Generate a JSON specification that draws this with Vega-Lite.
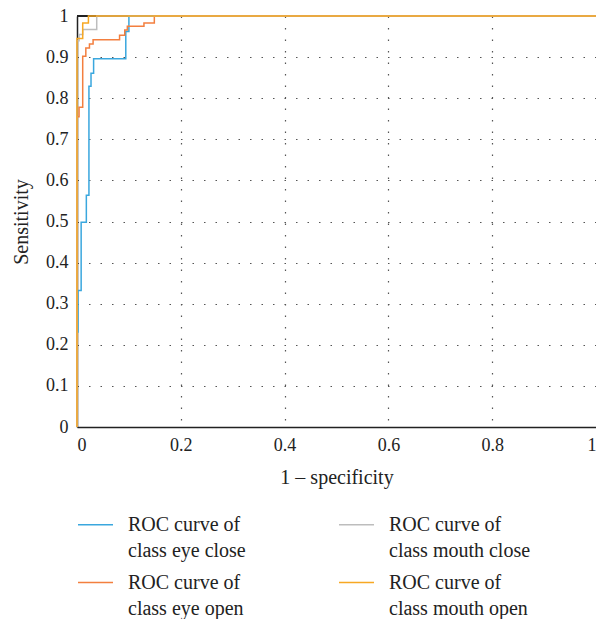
{
  "$schema": "https://vega.github.io/schema/vega-lite/v6.json",
  "width": 519,
  "height": 411,
  "autosize": "none",
  "padding": {"left": 77, "top": 16, "right": 0, "bottom": 192},
  "background": "white",
  "data": {
    "values": [
      {"series": "eye close", "i": 0, "fpr": 0, "tpr": 0},
      {"series": "eye close", "i": 1, "fpr": 0, "tpr": 0.231},
      {"series": "eye close", "i": 2, "fpr": 0.002, "tpr": 0.231},
      {"series": "eye close", "i": 3, "fpr": 0.002, "tpr": 0.332},
      {"series": "eye close", "i": 4, "fpr": 0.008, "tpr": 0.332},
      {"series": "eye close", "i": 5, "fpr": 0.008, "tpr": 0.498},
      {"series": "eye close", "i": 6, "fpr": 0.018, "tpr": 0.498},
      {"series": "eye close", "i": 7, "fpr": 0.018, "tpr": 0.564},
      {"series": "eye close", "i": 8, "fpr": 0.023, "tpr": 0.564},
      {"series": "eye close", "i": 9, "fpr": 0.023, "tpr": 0.829},
      {"series": "eye close", "i": 10, "fpr": 0.027, "tpr": 0.829},
      {"series": "eye close", "i": 11, "fpr": 0.027, "tpr": 0.861},
      {"series": "eye close", "i": 12, "fpr": 0.032, "tpr": 0.861},
      {"series": "eye close", "i": 13, "fpr": 0.032, "tpr": 0.896},
      {"series": "eye close", "i": 14, "fpr": 0.094, "tpr": 0.896},
      {"series": "eye close", "i": 15, "fpr": 0.094, "tpr": 0.962},
      {"series": "eye close", "i": 16, "fpr": 0.1, "tpr": 0.962},
      {"series": "eye close", "i": 17, "fpr": 0.1, "tpr": 1},
      {"series": "eye close", "i": 18, "fpr": 1, "tpr": 1},
      {"series": "eye open", "i": 0, "fpr": 0, "tpr": 0},
      {"series": "eye open", "i": 1, "fpr": 0, "tpr": 0.755},
      {"series": "eye open", "i": 2, "fpr": 0.004, "tpr": 0.755},
      {"series": "eye open", "i": 3, "fpr": 0.004, "tpr": 0.778},
      {"series": "eye open", "i": 4, "fpr": 0.011, "tpr": 0.778},
      {"series": "eye open", "i": 5, "fpr": 0.011, "tpr": 0.902},
      {"series": "eye open", "i": 6, "fpr": 0.017, "tpr": 0.902},
      {"series": "eye open", "i": 7, "fpr": 0.017, "tpr": 0.922},
      {"series": "eye open", "i": 8, "fpr": 0.024, "tpr": 0.922},
      {"series": "eye open", "i": 9, "fpr": 0.024, "tpr": 0.932},
      {"series": "eye open", "i": 10, "fpr": 0.031, "tpr": 0.932},
      {"series": "eye open", "i": 11, "fpr": 0.031, "tpr": 0.942},
      {"series": "eye open", "i": 12, "fpr": 0.082, "tpr": 0.942},
      {"series": "eye open", "i": 13, "fpr": 0.082, "tpr": 0.953},
      {"series": "eye open", "i": 14, "fpr": 0.092, "tpr": 0.953},
      {"series": "eye open", "i": 15, "fpr": 0.092, "tpr": 0.966},
      {"series": "eye open", "i": 16, "fpr": 0.097, "tpr": 0.966},
      {"series": "eye open", "i": 17, "fpr": 0.097, "tpr": 0.975},
      {"series": "eye open", "i": 18, "fpr": 0.129, "tpr": 0.975},
      {"series": "eye open", "i": 19, "fpr": 0.129, "tpr": 0.983},
      {"series": "eye open", "i": 20, "fpr": 0.149, "tpr": 0.983},
      {"series": "eye open", "i": 21, "fpr": 0.149, "tpr": 1},
      {"series": "eye open", "i": 22, "fpr": 1, "tpr": 1},
      {"series": "mouth close", "i": 0, "fpr": 0, "tpr": 0},
      {"series": "mouth close", "i": 1, "fpr": 0, "tpr": 0.94},
      {"series": "mouth close", "i": 2, "fpr": 0.004, "tpr": 0.94},
      {"series": "mouth close", "i": 3, "fpr": 0.004, "tpr": 0.955},
      {"series": "mouth close", "i": 4, "fpr": 0.011, "tpr": 0.955},
      {"series": "mouth close", "i": 5, "fpr": 0.011, "tpr": 0.967},
      {"series": "mouth close", "i": 6, "fpr": 0.038, "tpr": 0.967},
      {"series": "mouth close", "i": 7, "fpr": 0.038, "tpr": 1},
      {"series": "mouth close", "i": 8, "fpr": 1, "tpr": 1},
      {"series": "mouth open", "i": 0, "fpr": 0, "tpr": 0},
      {"series": "mouth open", "i": 1, "fpr": 0, "tpr": 0.945},
      {"series": "mouth open", "i": 2, "fpr": 0.011, "tpr": 0.945},
      {"series": "mouth open", "i": 3, "fpr": 0.011, "tpr": 0.983},
      {"series": "mouth open", "i": 4, "fpr": 0.022, "tpr": 0.983},
      {"series": "mouth open", "i": 5, "fpr": 0.022, "tpr": 1},
      {"series": "mouth open", "i": 6, "fpr": 1, "tpr": 1}
    ]
  },
  "layer": [
    {
      "mark": {"type": "rule", "color": "#222222", "strokeWidth": 1.5},
      "encoding": {"y": {"datum": 1, "type": "quantitative"}}
    },
    {
      "mark": {"type": "line", "strokeWidth": 1.5, "clip": false},
      "encoding": {
        "x": {
          "field": "fpr",
          "type": "quantitative",
          "title": "1 – specificity",
          "scale": {"domain": [0, 1], "nice": false},
          "axis": {"values": [0, 0.2, 0.4, 0.6, 0.8, 1], "format": "~g", "titlePadding": 13}
        },
        "y": {
          "field": "tpr",
          "type": "quantitative",
          "title": "Sensitivity",
          "scale": {"domain": [0, 1], "nice": false},
          "axis": {"values": [0, 0.1, 0.2, 0.3, 0.4, 0.5, 0.6, 0.7, 0.8, 0.9, 1], "format": "~g", "titlePadding": 14}
        },
        "order": {"field": "i", "type": "quantitative"},
        "color": {
          "field": "series",
          "type": "nominal",
          "scale": {
            "domain": ["eye close", "mouth close", "eye open", "mouth open"],
            "range": ["#3aa7de", "#bdbdbd", "#f37f3f", "#f7a823"]
          },
          "legend": {
            "title": null,
            "orient": "none",
            "legendX": 0,
            "legendY": 490,
            "direction": "horizontal",
            "columns": 2,
            "columnPadding": 90,
            "rowPadding": 3,
            "symbolType": "stroke",
            "symbolSize": 1225,
            "symbolStrokeWidth": 1.5,
            "labelOffset": 14,
            "labelLimit": 300,
            "labelFontSize": 20,
            "labelExpr": "['ROC curve of', 'class ' + datum.label]"
          }
        }
      }
    }
  ],
  "config": {
    "view": {"stroke": null},
    "font": "Liberation Serif",
    "style": {"guide-label": {"lineHeight": 26}},
    "axis": {
      "labelFont": "Liberation Serif",
      "titleFont": "Liberation Serif",
      "labelFontSize": 18,
      "titleFontSize": 20,
      "titleFontWeight": "normal",
      "labelColor": "#222222",
      "titleColor": "#222222",
      "domainColor": "#222222",
      "domainWidth": 1.5,
      "ticks": false,
      "labelPadding": 9,
      "grid": true,
      "gridColor": {"condition": {"test": "datum.value === 0 || datum.value === 1", "value": "transparent"}, "value": "#555555"},
      "gridDash": [1.5, 10],
      "gridWidth": 1.2
    },
    "legend": {"labelFont": "Liberation Serif", "labelColor": "#222222"}
  }
}
